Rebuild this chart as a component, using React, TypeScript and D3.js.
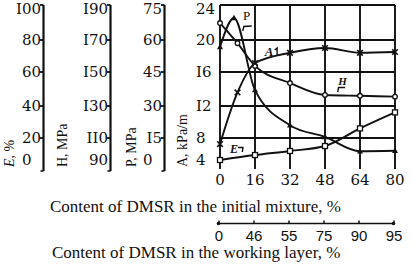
import React from 'react';
import * as d3 from 'd3';

// x categories (content of DMSR in the initial mixture, %)
const initialMixture = [0, 16, 32, 48, 64, 80];
const initialLabels = ['0', '16', '32', '48', '64', '80'];
// secondary axis: content in the working layer
const workingLayer = ['0', '46', '55', '75', '90', '95'];

// left axes tick values / labels
const eTickValues = [0, 20, 40, 60, 80, 100];
const eTickLabels = ['0', '20', '40', '60', '80', 'I00'];
const hTickValues = [90, 110, 130, 150, 170, 190];
const hTickLabels = ['90', 'II0', 'I30', 'I50', 'I70', 'I90'];
const pTickValues = [0, 15, 30, 45, 60, 75];
const pTickLabels = ['0', 'I5', '30', '45', '60', '75'];
const aTickValues = [4, 8, 12, 16, 20, 24];
const aTickLabels = ['4', '8', 'I2', 'I6', '20', '24'];

// series
const eX = [0, 16, 32, 48, 64, 80];
const eValues = [0, 4.5, 8.2, 12.7, 26, 36];
const hX = [0, 8, 16, 32, 48, 64, 80];
const hValues = [179.7, 168, 153.8, 143.5, 136.5, 136, 135.5];
const pX = [0, 6.4, 16, 32, 48, 64, 80];
const pValues = [56.7, 69.4, 37, 21, 15.5, 6, 6.3];
const aX = [0, 8, 16, 32, 48, 64, 80];
const aValues = [6.9, 13.6, 17.1, 18.4, 19.0, 18.4, 18.5];

const W = 412;
const H = 265;
const levelRange = [160, 138, 106, 72, 40, 5];
const TOP = 5;
const AXIS_BOTTOM = 171;
const GRID_BOTTOM = 169;
const tickFont = "'DejaVu Serif', serif";
const titleFont = "'Liberation Serif', 'Times New Roman', serif";
const DIGIT_W = 9.5;

export default function App() {
  const x = d3.scaleLinear().domain([0, 80]).range([220, 395]);
  const yE = d3.scaleLinear().domain(eTickValues).range(levelRange);
  const yH = d3.scaleLinear().domain(hTickValues).range(levelRange);
  const yP = d3.scaleLinear().domain(pTickValues).range(levelRange);
  const yA = d3.scaleLinear().domain(aTickValues).range(levelRange);

  const mkLine = (ys: d3.ScaleLinear<number, number>) =>
    d3
      .line<[number, number]>()
      .x((d) => x(d[0]))
      .y((d) => ys(d[1]))
      .curve(d3.curveMonotoneX);

  const eData = eX.map((v, i) => [v, eValues[i]] as [number, number]);
  const hData = hX.map((v, i) => [v, hValues[i]] as [number, number]);
  const pData = pX.map((v, i) => [v, pValues[i]] as [number, number]);
  const aData = aX.map((v, i) => [v, aValues[i]] as [number, number]);

  const stroke = '#111';

  const leftAxis = (
    axisX: number,
    values: number[],
    labels: string[],
    ys: d3.ScaleLinear<number, number>,
    mode: 'end' | 'pad',
    key: string
  ) => {
    const labelEnd = axisX - 2.5;
    return (
      <g key={key}>
        <line x1={axisX} x2={axisX} y1={TOP} y2={AXIS_BOTTOM} stroke={stroke} strokeWidth={2.2} />
        <line x1={axisX - 3} x2={axisX} y1={AXIS_BOTTOM} y2={AXIS_BOTTOM} stroke={stroke} strokeWidth={1.6} />
        {values.slice(1).map((v) => (
          <line key={v} x1={axisX - 3.5} x2={axisX} y1={ys(v)} y2={ys(v)} stroke={stroke} strokeWidth={1.8} />
        ))}
        {values.map((v, i) => {
          const lab = labels[i];
          let anchor: 'end' | 'start' = 'end';
          let tx = labelEnd;
          if (mode === 'pad' && lab.length < 2) {
            anchor = 'start';
            tx = labelEnd - 2 * DIGIT_W;
          }
          return (
            <text
              key={'l' + v}
              x={tx}
              y={ys(v) + (i === values.length - 1 ? 3.6 : 0)}
              dy="0.36em"
              textAnchor={anchor}
              fontFamily={tickFont}
              fontSize={15}
              fill={stroke}
            >
              {lab}
            </text>
          );
        })}
      </g>
    );
  };

  const axisTitle = (bx: number, content: React.ReactNode, key: string) => (
    <text
      key={key}
      transform={`translate(${bx},167) rotate(-90)`}
      fontFamily={titleFont}
      fontSize={14}
      fill={stroke}
    >
      {content}
    </text>
  );

  return (
    <svg
      width={W}
      height={H}
      style={{ position: 'absolute', left: 0, top: 0, background: '#fff' }}
    >
      <rect width={W} height={H} fill="#fff" />

      {/* left axes */}
      {leftAxis(43.5, eTickValues, eTickLabels, yE, 'pad', 'E')}
      {leftAxis(110.5, hTickValues, hTickLabels, yH, 'end', 'H')}
      {leftAxis(164.5, pTickValues, pTickLabels, yP, 'pad', 'P')}

      {axisTitle(13.5, <><tspan fontStyle="italic">E</tspan>, %</>, 'tE')}
      {axisTitle(67, 'H, MPa', 'tH')}
      {axisTitle(135.5, 'P, MPa', 'tP')}
      {axisTitle(187, 'A, kPa/m', 'tA')}

      {/* A axis labels (left aligned) */}
      {aTickValues.map((v, i) => (
        <text
          key={'a' + v}
          x={196}
          y={yA(v) + (i === aTickValues.length - 1 ? 3.6 : 0)}
          dy="0.36em"
          textAnchor="start"
          fontFamily={tickFont}
          fontSize={15}
          fill={stroke}
        >
          {aTickLabels[i]}
        </text>
      ))}

      {/* grid */}
      {initialMixture.map((v) => (
        <line key={'gv' + v} x1={x(v)} x2={x(v)} y1={TOP} y2={GRID_BOTTOM} stroke={stroke} strokeWidth={1.9} />
      ))}
      {aTickValues.slice(1).map((v) => (
        <line key={'gh' + v} x1={x(0)} x2={x(80)} y1={yA(v)} y2={yA(v)} stroke={stroke} strokeWidth={1.9} />
      ))}

      {/* bottom tick labels */}
      {initialMixture.map((v, i) => (
        <text
          key={'bx' + v}
          x={x(v)}
          y={185}
          textAnchor="middle"
          fontFamily={tickFont}
          fontSize={15}
          fill={stroke}
        >
          {initialLabels[i]}
        </text>
      ))}

      {/* curves */}
      <path d={mkLine(yE)(eData) || ''} fill="none" stroke={stroke} strokeWidth={1.9} />
      <path d={mkLine(yH)(hData) || ''} fill="none" stroke={stroke} strokeWidth={1.9} />
      <path d={mkLine(yP)(pData) || ''} fill="none" stroke={stroke} strokeWidth={1.9} />
      <path d={mkLine(yA)(aData) || ''} fill="none" stroke={stroke} strokeWidth={1.9} />

      {/* markers */}
      {eData.map((d, i) => (
        <rect key={'me' + i} x={x(d[0]) - 2.5} y={yE(d[1]) - 2.5} width={5} height={5} fill="#fff" stroke={stroke} strokeWidth={1.3} />
      ))}
      {hData.map((d, i) => (
        <circle key={'mh' + i} cx={x(d[0])} cy={yH(d[1])} r={2.3} fill="#fff" stroke={stroke} strokeWidth={1.3} />
      ))}
      {pData.map((d, i) => {
        const cx = x(d[0]);
        const cy = yP(d[1]);
        return (
          <path key={'mp' + i} d={`M${cx},${cy - 3.2}L${cx + 3},${cy + 2.2}L${cx - 3},${cy + 2.2}Z`} fill={stroke} />
        );
      })}
      {aData.map((d, i) => {
        const cx = x(d[0]);
        const cy = yA(d[1]);
        return (
          <path key={'ma' + i} d={`M${cx - 2.8},${cy - 2.8}L${cx + 2.8},${cy + 2.8}M${cx + 2.8},${cy - 2.8}L${cx - 2.8},${cy + 2.8}`} stroke={stroke} strokeWidth={1.6} />
        );
      })}

      {/* curve labels with leaders */}
      <text x={x(10.5)} y={20} fontFamily={titleFont} fontSize={13} fill={stroke}>P</text>
      <path d={`M${x(10.4)},31 L${x(10.9)},26.5 L${x(14.5)},26`} fill="none" stroke={stroke} strokeWidth={1.4} />

      <text x={x(20.5)} y={56} fontFamily={titleFont} fontSize={13} fontWeight="bold" fontStyle="italic" fill={stroke}>A</text>
      <path d={`M${x(25)},50 L${x(26.1)},48 L${x(26.1)},56`} fill="none" stroke={stroke} strokeWidth={1.4} />

      <text x={x(54)} y={85} fontFamily={titleFont} fontSize={11} fontWeight="bold" fontStyle="italic" fill={stroke}>H</text>
      <path d={`M${x(57.2)},87.5 L${x(54.2)},87.5 L${x(53.8)},92`} fill="none" stroke={stroke} strokeWidth={1.4} />

      <text x={x(4.6)} y={153} fontFamily={titleFont} fontSize={12} fontWeight="bold" fontStyle="italic" fill={stroke}>E</text>
      <path d={`M${x(8.2)},147.5 L${x(10.5)},147.5 L${x(10.2)},152`} fill="none" stroke={stroke} strokeWidth={1.4} />

      {/* titles */}
      <text x={50} y={212} fontFamily={titleFont} fontSize={17} fill={stroke}>
        Content of DMSR in the initial mixture, %
      </text>

      {/* secondary axis */}
      <line x1={x(0) - 2} x2={x(80) - 1} y1={223.5} y2={223.5} stroke={stroke} strokeWidth={1.6} />
      {initialMixture.map((v, i) => (
        <g key={'s' + v}>
          <line x1={x(v) - 1} x2={x(v) - 1} y1={220.5} y2={223.5} stroke={stroke} strokeWidth={1.5} />
          {(i === 0 || i === initialMixture.length - 1) && (
            <circle cx={x(v) - 1.5} cy={223.5} r={1.8} fill={stroke} />
          )}
          <text
            x={x(v) - 1}
            y={241}
            textAnchor="middle"
            fontFamily="'Liberation Sans', Arial, sans-serif"
            fontSize={15}
            fill={stroke}
          >
            {workingLayer[i]}
          </text>
        </g>
      ))}

      <text x={52} y={258} fontFamily={titleFont} fontSize={17} fill={stroke}>
        Content of DMSR in the working layer, %
      </text>
    </svg>
  );
}
